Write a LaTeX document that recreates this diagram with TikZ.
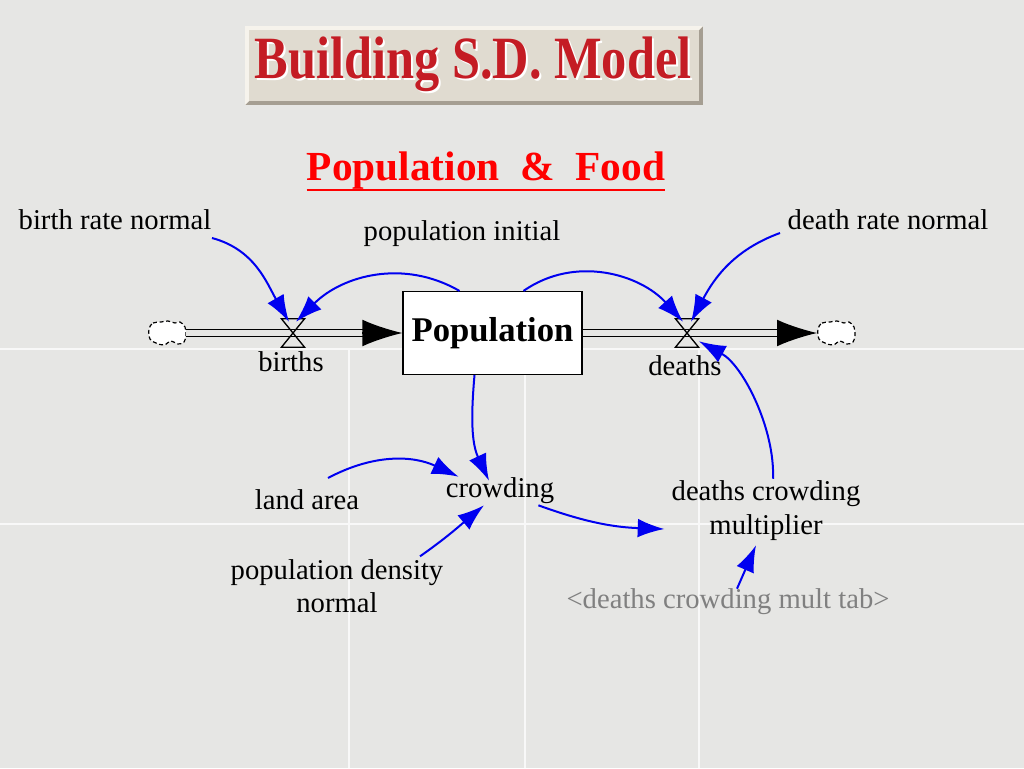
\documentclass[tikz,border=0pt]{standalone}
\usepackage{fontspec}
\setmainfont{Liberation Serif}
\usetikzlibrary{arrows.meta,calc}
\definecolor{bg}{RGB}{230,230,228}
\definecolor{seam}{RGB}{248,248,248}
\definecolor{banner}{RGB}{224,219,208}
\definecolor{bannerdark}{RGB}{165,158,146}
\definecolor{bannerlight}{RGB}{246,243,236}
\definecolor{titlered}{RGB}{196,28,36}
\definecolor{linkblue}{RGB}{0,0,240}
\definecolor{shadowgray}{RGB}{128,128,128}
\begin{document}
\begin{tikzpicture}[x=0.75pt,y=0.75pt,
  lbl/.style={font=\fontsize{21.5}{24.5}\selectfont, inner sep=0pt, align=center},
  link/.style={draw=linkblue, line width=1.5pt, -{Latex[length=20pt,width=14pt]}},
  pipeline/.style={draw=black, line width=1.1pt, double=bg, double distance=4.5pt},
  pipetip/.style={-{Latex[length=30pt,width=20pt]}, line width=1pt},
  valvebox/.style={minimum width=17pt, minimum height=21pt, inner sep=0pt},
  cloudbox/.style={minimum width=28pt, minimum height=18pt, inner sep=0pt},
  cloudline/.style={draw=black, fill=white, line width=0.9pt, densely dashed}]
\fill[bg] (0,0) rectangle (1024,-768);
\useasboundingbox (0,0) rectangle (1024,-768);
% faint tile seams
\draw[seam, line width=0.8pt] (0,-349) -- (1024,-349);
\draw[seam, line width=0.8pt] (0,-524) -- (1024,-524);
\draw[seam, line width=0.8pt] (349,-349) -- (349,-768);
\draw[seam, line width=0.8pt] (525,-349) -- (525,-768);
\draw[seam, line width=0.8pt] (699,-349) -- (699,-768);

% banner
\fill[bannerdark] (245,-26) rectangle (703,-105);
\fill[bannerlight] (245,-26) -- (703,-26) -- (699,-30) -- (249,-30) -- (249,-101) -- (245,-105) -- cycle;
\fill[banner] (249,-30) rectangle (699,-101);
\node[text=white, font=\fontsize{45}{45}\selectfont\bfseries, inner sep=0pt] at (475,-66) {\scalebox{0.84}[1]{Building S.D. Model}};
\node[text=titlered, font=\fontsize{45}{45}\selectfont\bfseries, inner sep=0pt] (title) at (473,-64) {\scalebox{0.84}[1]{Building S.D. Model}};

% subtitle
\node[text=red, font=\fontsize{31}{31}\selectfont\bfseries, inner sep=0pt] (sub) at (486,-171) {Population\ \ \&\ \ Food};
\draw[red, line width=1.5pt] ($(sub.south west)+(0,0)$) -- ($(sub.south east)+(0,0)$);

% labels
\node[lbl] (brn) at (115,-220) {birth rate normal};
\node[lbl] (drn) at (888,-220) {death rate normal};
\node[lbl] (pinit) at (462,-234) {population initial};
\node[lbl] (birthslbl) at (291,-362) {births};
\node[lbl] (deathslbl) at (685,-366) {deaths};
\node[lbl] (crowd) at (500,-491) {crowding};
\node[lbl] (land) at (307,-500) {land area};
\node[lbl] (pdn) at (337,-586) {population density\\[0pt]normal};
\node[lbl] (mult) at (766,-511) {deaths crowding\\[1pt]multiplier};
\node[lbl, text=shadowgray] (tab) at (728,-602) {<deaths crowding mult tab>};

% stock
\node[draw, line width=1.1pt, fill=white, minimum width=134pt, minimum height=62pt, inner sep=0pt,
      font=\fontsize{26}{26}\selectfont\bfseries] (pop) at (492.5,-333) {Population};

% clouds
\node[cloudbox] (cl) at (167,-333) {};
\node[cloudbox] (cr) at (836,-333) {};
\foreach \c in {cl,cr}{
  \draw[cloudline, shift={(\c.center)}] plot[smooth cycle, tension=0.6] coordinates
    {(-18,4) (-14,10) (-6,11) (1,12) (8,10) (13,11) (18,6) (19,-2) (17,-9) (11,-11) (4,-8) (-3,-12) (-11,-10) (-17,-6)};
}

% valves
\node[valvebox] (bv) at (293,-333) {};
\node[valvebox] (dv) at (687,-333) {};

% pipes
\draw[pipeline] (cl.east) -- ($(pop.west)+(-38,0)$);
\draw[pipetip] ($(pop.west)+(-40,0)$) -- (pop.west);
\draw[pipeline] (pop.east) -- ($(cr.west)+(-38,0)$);
\draw[pipetip] ($(cr.west)+(-40,0)$) -- (cr.west);

\foreach \v in {bv,dv}{
  \draw[line width=1pt] (\v.north west) -- (\v.north east) -- (\v.south west) -- (\v.south east) -- cycle;
}

% links
\draw[link] ($(brn)+(97,-18)$) to[out=-15, in=120] ($(bv.north)+(-4,-3)$);
\draw[link] ($(pop.north)+(-33,0)$) to[out=150, in=45] ($(bv.north)+(3,-3)$);
\draw[link] ($(pop.north)+(31,0)$) to[out=35, in=132] ($(dv.north)+(-4,-3)$);
\draw[link] ($(drn)+(-108,-13)$) to[out=200, in=62] ($(dv.north)+(4,-3)$);
\draw[link] ($(pop.south)+(-18,0)$) to[out=-95, in=115] ($(crowd.north)+(-11,-3)$);
\draw[link] ($(land)+(21,22)$) to[out=28, in=155] ($(crowd.north west)+(13,1)$);
\draw[link] ($(pdn.north)+(83,3)$) to[out=35, in=220] ($(crowd.south)+(-16,-1)$);
\draw[link] ($(crowd.south east)+(-16,-1)$) to[out=-20, in=178] ($(mult.west)+(-7,-18)$);
\draw[link] ($(mult.north)+(7,2)$) .. controls +(2,50) and +(44,-24) .. ($(dv.south)+(12,6)$);
\draw[link] ($(tab.north)+(9,0)$) -- ($(mult.south)+(-10,-4)$);
\end{tikzpicture}
\end{document}
